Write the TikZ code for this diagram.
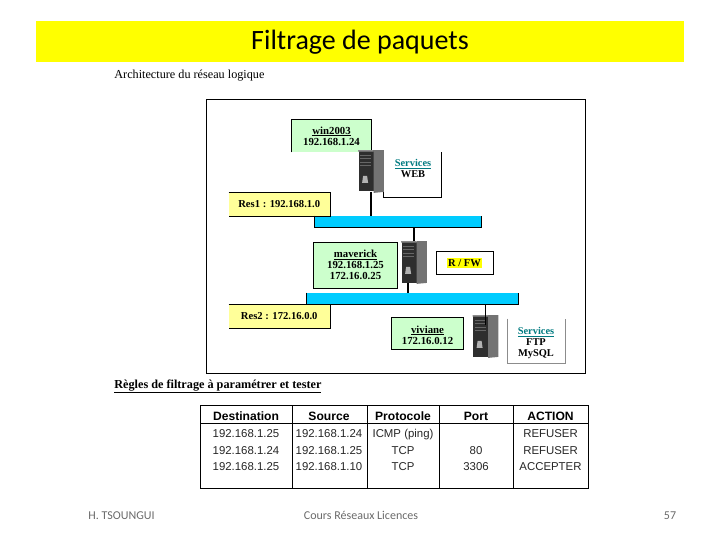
\documentclass[tikz,border=0pt]{standalone}
\usepackage{fontspec}
\setmainfont{Liberation Serif}
\newfontfamily\titlefont{Carlito}
\newfontfamily\tablefont{Liberation Sans}
\usepackage{tikz}
\usetikzlibrary{positioning, calc}
\definecolor{bandyellow}{RGB}{255,255,0}
\definecolor{hostgreen}{HTML}{CCFFCC}
\definecolor{netyellow}{HTML}{FFFF99}
\definecolor{buscyan}{HTML}{00CCFF}
\definecolor{svcteal}{HTML}{007A80}
\definecolor{footgray}{HTML}{6A6A6A}
\tikzset{
    hostbox/.style={fill=hostgreen, inner sep=0, align=center, font=\fontsize{10.8}{11}\selectfont\bfseries},
    netbox/.style={fill=netyellow, inner sep=0, align=center, font=\fontsize{10.6}{11}\selectfont\bfseries},
    svcbox/.style={inner sep=0, minimum width=57pt},
    svclabel/.style={inner sep=0, align=center, font=\fontsize{10.4}{11}\selectfont\bfseries},
    busbar/.style={fill=buscyan, inner sep=0},
    tower/.style={fill=black!82, inner sep=0, minimum width=25pt, minimum height=41pt},
    link/.style={line width=1.8pt},
    thead/.style={anchor=base, font=\tablefont\fontsize{12.1}{12}\selectfont\bfseries},
    tcell/.style={anchor=base, font=\tablefont\fontsize{11.4}{12}\selectfont, text=black!85},
    foot/.style={font=\titlefont\fontsize{12}{12}\selectfont, text=footgray, inner sep=0}
}
\newcommand{\svcname}{\textcolor{svcteal}{\underline{Services}}}
\begin{document}
\begin{tikzpicture}[x=1pt, y=-1pt, thick]
\useasboundingbox (0,0) rectangle (720,540);

\node[fill=bandyellow, minimum width=648pt, minimum height=41pt, inner sep=0, text height=19pt, text depth=2pt] (band) at (360,41.5)
    {\titlefont\fontsize{28}{28}\selectfont Filtrage de paquets};

\node[anchor=base west, inner sep=0, font=\fontsize{12.2}{12}\selectfont] (archi) at (114,79) {Architecture du réseau logique};
\draw[line width=1pt] (206,100) rectangle (585.5,373);

% hosts
\node[hostbox, minimum width=79pt, minimum height=32pt] (win) at (331.5,136) {\underline{win2003}\\192.168.1.24};
\node[hostbox, minimum width=83pt, minimum height=45pt] (maverick) at (355.5,265) {\underline{maverick}\\192.168.1.25\\172.16.0.25};
\node[hostbox, minimum width=71pt, minimum height=31pt] (viviane) at (427.5,333.5) {\rule{0pt}{10.5pt}\underline{viviane}\\172.16.0.12};
\draw[line width=.8pt] (win.south west)--(win.north west)--(win.north east)--(win.south east);
\draw[line width=.8pt] (maverick.south west) rectangle (maverick.north east);
\draw[line width=.8pt] (viviane.south west) rectangle (viviane.north east);

% networks
\node[netbox, minimum width=100.5pt, minimum height=24pt] (res1) at (279.25,204.5) {Res1 : 192.168.1.0};
\node[netbox, minimum width=100.5pt, minimum height=23pt] (res2) at (279.25,316) {Res2 : 172.16.0.0};
\node[busbar, minimum width=166pt, minimum height=11pt] (bus1) at (398,221.5) {};
\node[busbar, minimum width=211pt, minimum height=11pt] (bus2) at (412.5,298.5) {};
\foreach \n in {bus1, bus2}
{
    \draw[line width=.8pt] (\n.north west)--(\n.south west)--(\n.south east)--(\n.north east);
}
\foreach \n in {res1, res2}
{
    \draw[line width=.8pt] (\n.north west)--(\n.north east)--(\n.south east)--(\n.south west);
}

% services
\node[svcbox, minimum height=45pt] (web) at (412.5,174.5) {};
\node[svclabel] (weblabel) at (413,168.5) {\svcname\\WEB};
\draw[line width=.8pt] (web.north west)--(web.south west)--(web.south east)--(web.north east);
\node[svcbox, minimum height=44pt] (ftp) at (536,341) {};
\node[svclabel] (ftplabel) at (536,343.5) {\svcname\\FTP\\MySQL};
\draw[line width=.8pt, black!45] (ftp.north west)--(ftp.south west)--(ftp.south east)--(ftp.north east);
\node[draw, line width=.8pt, minimum width=57pt, minimum height=23pt, inner sep=0] (fw) at (464.5,262.5) {};
\node[fill=bandyellow, inner sep=1pt, font=\fontsize{10.5}{11}\selectfont\bfseries] (fwlabel) at (464.5,263) {R / FW};

% servers
\node[tower] (srv1) at (371,171) {};
\node[tower] (srv2) at (414,262) {};
\node[tower] (srv3) at (485.5,336) {};
\foreach \n in {srv1, srv2, srv3}
{
    \fill[black!55] ($(\n.north west)!.6!(\n.north east)$) -- (\n.north east) -- (\n.south east)
        -- ($(\n.south west)!.6!(\n.south east)+(0,1)$) -- cycle;
    \fill[black!45] (\n.north west) -- ($(\n.north west)!.6!(\n.north east)$) -- ($(\n.north west)!.6!(\n.north east)+(0,1.5)$) -- ($(\n.north west)+(0,1.5)$) -- cycle;
    \foreach \k in {5,8.5,12,15.5}
    {
        \draw[black!60, line width=.6pt] ($(\n.north west)+(2,\k)$) -- ($(\n.north west)+(13,\k)$);
    }
    \fill[black!30] ($(\n.south west)+(5,-16)$) -- ($(\n.south west)+(9,-16)$) -- ($(\n.south west)+(10,-9)$) -- ($(\n.south west)+(4,-9)$) -- cycle;
}

% links
\draw[link] (srv1.south) -- (srv1.south |- bus1.north);
\draw[link] (srv2.north) -- (srv2.north |- bus1.south);
\coordinate (srv2out) at ($(srv2.south)+(-6,0)$);
\draw[link] (srv2out) -- (srv2out |- bus2.north);
\coordinate (srv3in) at ($(srv3.north)+(0,10)$);
\draw[link] (srv3in) -- (srv3in |- bus2.south);

\node[anchor=base west, inner sep=0, font=\fontsize{12.2}{12}\selectfont\bfseries] (regles) at (114,388) {\underline{Règles de filtrage à paramétrer et tester}};

% table
\draw[line width=.8pt] (200,405) rectangle (588,488);
\draw[line width=.8pt] (200,423) -- (588,423);
\foreach \x in {292,367,439,513}
{
    \draw[line width=.8pt] (\x,405) -- (\x,488);
}
\foreach \x/\t in {246/Destination, 329/Source, 403/Protocole, 476/Port, 550.5/ACTION}
{
    \node[thead] (head\x) at (\x,420.5) {\t};
}
\foreach \x/\a/\b/\c in {246/192.168.1.25/192.168.1.24/192.168.1.25,
    329/192.168.1.24/192.168.1.25/192.168.1.10,
    403/ICMP (ping)/TCP/TCP,
    476//80/3306,
    550.5/REFUSER/REFUSER/ACCEPTER}
{
    \node[tcell] (ra\x) at (\x,437.5) {\a};
    \node[tcell] (rb\x) at (\x,454.5) {\b};
    \node[tcell] (rc\x) at (\x,470.5) {\c};
}

\node[foot, anchor=base west] (author) at (88,519) {H. TSOUNGUI};
\node[foot, anchor=base] (course) at (361,519) {Cours Réseaux Licences};
\node[foot, anchor=base] (page) at (670,519) {57};
\end{tikzpicture}
\end{document}
